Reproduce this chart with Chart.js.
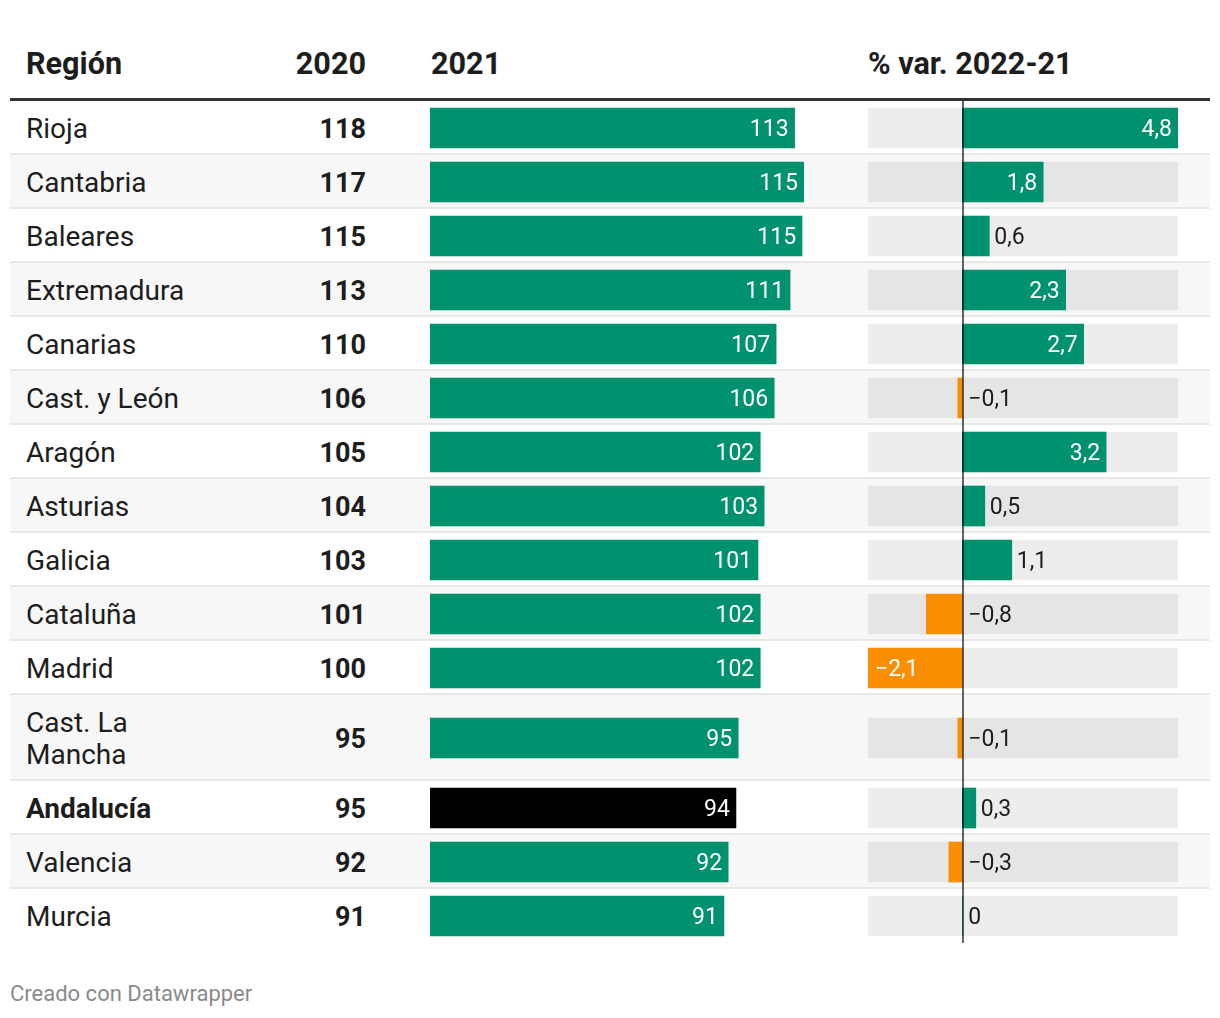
<!DOCTYPE html>
<html lang="es">
<head>
<meta charset="utf-8">
<script src="https://cdn.jsdelivr.net/npm/chart.js@4.4.1/dist/chart.umd.min.js"></script>
<style>
  html, body { margin: 0; padding: 0; background: #fff; }
  body { width: 1220px; height: 1018px; position: relative; font-family: Roboto, "Noto Sans", sans-serif; color: #1d1d1d; overflow: hidden; }
  #header { position: absolute; left: 10px; top: 0; width: 1200px; height: 98px; }
  .hcell { position: absolute; top: 46px; line-height: 36px; font-size: 30.6px; font-weight: 700; color: #1d1d1d; white-space: nowrap; }
  #hline { position: absolute; left: 10px; top: 98px; width: 1200px; height: 3px; background: #333; }
  #rows { position: absolute; left: 10px; top: 101px; width: 1200px; }
  .row { position: relative; width: 1200px; }
  .row.alt { background: #f7f7f7; }
  .row .sep { position: absolute; left: 0; right: 0; bottom: 0; height: 2px; background: #e8e8e8; z-index: 0; }
  .region { position: absolute; left: 16px; width: 180px; font-size: 28px; line-height: 32px; }
  .region.hl { font-weight: 700; }
  .v2020 { position: absolute; right: 844px; font-size: 27px; line-height: 32px; font-weight: 700; text-align: right; white-space: nowrap; }
  .row canvas { position: absolute; top: 0; z-index: 1; }
  #footer { position: absolute; left: 10px; top: 980px; font-size: 22px; line-height: 28px; color: #8a8a8a; }
</style>
</head>
<body>
<div id="header"></div>
<div id="hline"></div>
<div id="rows"></div>
<div id="footer">Creado con Datawrapper</div>
<script>
const headers = ["Región", "2020", "2021", "% var. 2022-21"];
const regions = ["Rioja", "Cantabria", "Baleares", "Extremadura", "Canarias", "Cast. y León", "Aragón", "Asturias", "Galicia", "Cataluña", "Madrid", "Cast. La Mancha", "Andalucía", "Valencia", "Murcia"];
const values2020 = [118, 117, 115, 113, 110, 106, 105, 104, 103, 101, 100, 95, 95, 92, 91];
const values2021 = [112.5, 115.4, 114.8, 111.1, 106.8, 106.2, 101.9, 103.1, 101.2, 101.9, 101.9, 95.1, 94.4, 92.0, 90.7];
const varPct = [4.8, 1.8, 0.6, 2.3, 2.7, -0.1, 3.2, 0.5, 1.1, -0.8, -2.1, -0.1, 0.3, -0.3, 0];
const highlightRegion = "Andalucía";

const GREEN = "#00916f", ORANGE = "#f88e00", BLACK = "#000000", TRACK = "rgba(0,0,0,0.07)";
const LABEL_FONT = "23px Roboto, 'Noto Sans', sans-serif";

function fmtPct(v) {
  if (v === 0) return "0";
  const s = Math.abs(v).toFixed(1).replace(".", ",");
  return (v < 0 ? "\u2212" : "") + s;
}

// header
const hdr = document.getElementById("header");
const hpos = [{left: "16px"}, {right: "844px"}, {left: "421px"}, {left: "858px"}];
headers.forEach((h, i) => {
  const d = document.createElement("div");
  d.className = "hcell";
  d.textContent = h;
  Object.assign(d.style, hpos[i]);
  hdr.appendChild(d);
});

const max2021 = Math.max(...values2021);
const minVar = Math.min(...varPct), maxVar = Math.max(...varPct);

const rowsEl = document.getElementById("rows");
regions.forEach((name, i) => {
  const row = document.createElement("div");
  row.className = "row" + (i % 2 === 1 ? " alt" : "");
  rowsEl.appendChild(row);

  const reg = document.createElement("div");
  reg.className = "region" + (name === highlightRegion ? " hl" : "");
  reg.textContent = name;
  row.appendChild(reg);
  const lines = Math.max(1, Math.round(reg.offsetHeight / 32));
  const h = 54 + (lines - 1) * 32;
  row.style.height = h + "px";
  reg.style.top = ((h - reg.offsetHeight) / 2 + 1) + "px";

  const v20 = document.createElement("div");
  v20.className = "v2020";
  v20.textContent = String(values2020[i]);
  row.appendChild(v20);
  v20.style.top = ((h - 32) / 2 + 1) + "px";

  if (i < regions.length - 1) {
    const sep = document.createElement("div");
    sep.className = "sep";
    row.appendChild(sep);
  }

  // 2021 bar chart
  const c1 = document.createElement("canvas");
  c1.width = 374; c1.height = h;
  c1.style.left = "420px"; c1.style.width = "374px"; c1.style.height = h + "px";
  row.appendChild(c1);
  new Chart(c1, {
    type: "bar",
    data: {
      labels: [name],
      datasets: [{
        data: [values2021[i]],
        backgroundColor: name === highlightRegion ? BLACK : GREEN,
        barThickness: 40,
        borderWidth: 0
      }]
    },
    options: {
      indexAxis: "y",
      responsive: false,
      devicePixelRatio: 1,
      animation: false,
      events: [],
      layout: { padding: 0 },
      plugins: { legend: { display: false }, tooltip: { enabled: false } },
      scales: {
        x: { display: false, min: 0, max: max2021 },
        y: { display: false }
      }
    },
    plugins: [{
      id: "lbl2021",
      afterDatasetsDraw(chart) {
        const el = chart.getDatasetMeta(0).data[0];
        const ctx = chart.ctx;
        ctx.save();
        ctx.font = LABEL_FONT;
        ctx.fillStyle = "#ffffff";
        ctx.textAlign = "right";
        ctx.textBaseline = "middle";
        ctx.fillText(String(Math.round(values2021[i])), el.x - 6, el.y + 2);
        ctx.restore();
      }
    }]
  });

  // variation chart
  const c2 = document.createElement("canvas");
  c2.width = 310; c2.height = h;
  c2.style.left = "858px"; c2.style.width = "310px"; c2.style.height = h + "px";
  row.appendChild(c2);
  const v = varPct[i];
  new Chart(c2, {
    type: "bar",
    data: {
      labels: [name],
      datasets: [
        { data: [v], backgroundColor: v < 0 ? ORANGE : GREEN, barThickness: 40, borderWidth: 0, grouped: false, order: 0 },
        { data: [[minVar, maxVar]], backgroundColor: TRACK, barThickness: 40, borderWidth: 0, grouped: false, order: 1 }
      ]
    },
    options: {
      indexAxis: "y",
      responsive: false,
      devicePixelRatio: 1,
      animation: false,
      events: [],
      layout: { padding: 0 },
      plugins: { legend: { display: false }, tooltip: { enabled: false } },
      scales: {
        x: { display: false, min: minVar, max: maxVar },
        y: { display: false }
      }
    },
    plugins: [{
      id: "zeroAndLabel",
      afterDatasetsDraw(chart) {
        const ctx = chart.ctx;
        const x0 = chart.scales.x.getPixelForValue(0);
        const el = chart.getDatasetMeta(0).data[0];
        ctx.save();
        ctx.fillStyle = "rgba(0,0,0,0.6)";
        ctx.fillRect(Math.round(x0), 0, 2, chart.height);
        const txt = fmtPct(v);
        ctx.font = LABEL_FONT;
        ctx.textBaseline = "middle";
        const tw = ctx.measureText(txt).width;
        const len = Math.abs(el.x - x0);
        const inside = len > tw + 20;
        if (inside) {
          ctx.fillStyle = "#ffffff";
          if (v >= 0) { ctx.textAlign = "right"; ctx.fillText(txt, el.x - 6, el.y + 2); }
          else { ctx.textAlign = "left"; ctx.fillText(txt, el.x + 7, el.y + 2); }
        } else {
          ctx.fillStyle = "#1d1d1d";
          ctx.textAlign = "left";
          const xs = v > 0 ? el.x + 5 : x0 + 6;
          ctx.fillText(txt, xs, el.y + 2);
        }
        ctx.restore();
      }
    }]
  });
});
</script>
</body>
</html>
